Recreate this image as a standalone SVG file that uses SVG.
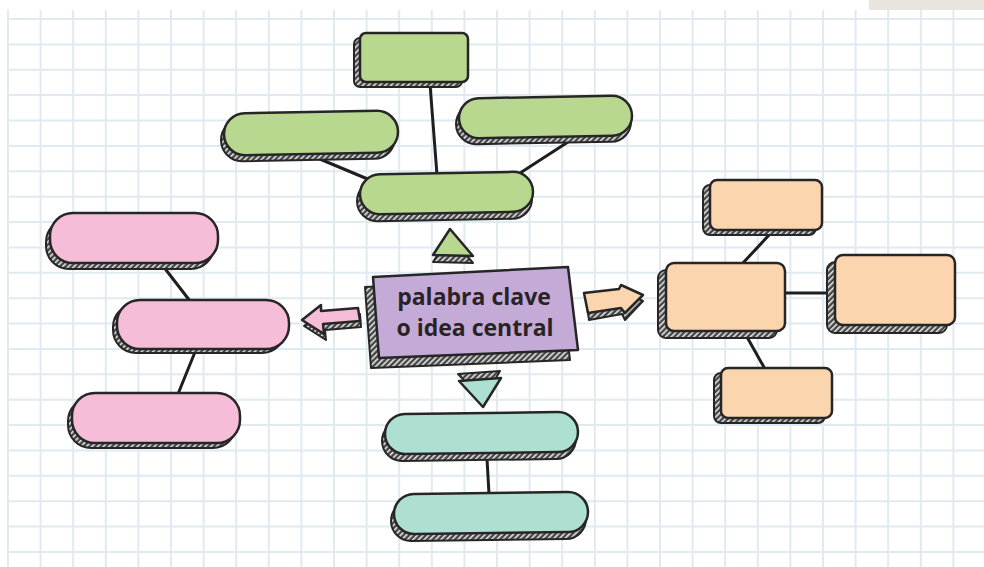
<svg xmlns="http://www.w3.org/2000/svg" width="984" height="567" viewBox="0 0 984 567">
<defs>
<pattern id="hatch" patternUnits="userSpaceOnUse" width="4" height="4" patternTransform="rotate(45)">
<rect width="4" height="4" fill="#444"/>
<rect width="1.6" height="4" fill="#e6e6e6"/>
</pattern>
</defs>
<style>
.grid{stroke:#dfeaf1;stroke-width:2;fill:none}
.sh{fill:url(#hatch);stroke:#262626;stroke-width:2;stroke-linejoin:round}
.face{stroke:#262626;stroke-width:2.5;stroke-linejoin:round}
.g{fill:#b8d78f}
.p{fill:#f5bdd7}
.o{fill:#fbd5ad}
.t{fill:#ade0d3}
.v{fill:#c4aad7}
.con{stroke:#1e1e1e;stroke-width:3;fill:none;stroke-linecap:round}
.lbl{font-family:"Open Sans","Liberation Sans",sans-serif;font-weight:bold;font-size:23px;fill:#2a2326;text-anchor:middle}
</style>
<rect width="984" height="567" fill="#ffffff"/>
<g id="grid">
<path class="grid" d="M8,10V567M40.6,10V567M73.2,10V567M105.8,10V567M138.4,10V567M171,10V567M203.6,10V567M236.2,10V567M268.8,10V567M301.4,10V567M334,10V567M366.6,10V567M399.2,10V567M431.8,10V567M464.4,10V567M497,10V567M529.6,10V567M562.2,10V567M594.8,10V567M627.4,10V567M660,10V567M692.6,10V567M725.2,10V567M757.8,10V567M790.4,10V567M823,10V567M855.6,10V567M888.2,10V567M920.8,10V567M953.4,10V567"/>
<path class="grid" d="M7,19H984M7,44.4H984M7,69.8H984M7,95.1H984M7,120.5H984M7,145.9H984M7,171.3H984M7,196.7H984M7,222H984M7,247.4H984M7,272.8H984M7,298.2H984M7,323.6H984M7,348.9H984M7,374.3H984M7,399.7H984M7,425.1H984M7,450.5H984M7,475.8H984M7,501.2H984M7,526.6H984M7,552H984"/>
</g>
<rect x="869" y="0" width="115" height="10" fill="#e9e4de"/>
<g id="connectors">
<line class="con" x1="430" y1="84" x2="437" y2="175"/>
<line class="con" x1="315" y1="157" x2="370" y2="180"/>
<line class="con" x1="568" y1="142" x2="517" y2="175"/>
<line class="con" x1="163" y1="266" x2="190" y2="301"/>
<line class="con" x1="195" y1="352" x2="178" y2="394"/>
<line class="con" x1="770" y1="234" x2="742" y2="264"/>
<line class="con" x1="785" y1="293" x2="829" y2="293"/>
<line class="con" x1="747" y1="337" x2="765" y2="369"/>
<line class="con" x1="487" y1="459" x2="489" y2="494"/>
</g>
<g id="green-top">
<rect class="sh" x="354" y="38" width="108" height="49" rx="6"/>
<rect class="face g" x="360" y="33" width="108" height="49" rx="6"/>
</g>
<g id="green-left">
<rect class="sh" x="221" y="118" width="174" height="42" rx="21" transform="rotate(-1 308 139)"/>
<rect class="face g" x="224" y="112" width="174" height="42" rx="21" transform="rotate(-1 311 133)"/>
</g>
<g id="green-right">
<rect class="sh" x="456" y="103" width="175" height="40" rx="20" transform="rotate(-1 543 123)"/>
<rect class="face g" x="459" y="97" width="173" height="40" rx="20" transform="rotate(-1 545 117)"/>
</g>
<g id="green-center">
<rect class="sh" x="357" y="180" width="175" height="40" rx="20" transform="rotate(-1 445 200)"/>
<rect class="face g" x="360" y="173" width="173" height="40" rx="20" transform="rotate(-1 446 193)"/>
</g>
<g id="green-triangle">
<path class="sh" d="M450,236 L433,262 L473,263 Z"/>
<path class="face g" d="M450,229 L433,255 L473,256 Z"/>
</g>
<g id="central">
<path class="sh" d="M365,287 L560,277 L570,360 L371,368 Z"/>
<path class="face v" d="M373,277 L568,267 L578,350 L379,358 Z"/>
<text class="lbl" x="474" y="305">palabra clave</text>
<text class="lbl" x="475" y="336">o idea central</text>
</g>
<g id="arrow-left">
<path class="sh" d="M304,326 L323,311 L323,317 L360,314 L361,327 L325,330 L326,340 Z"/>
<path class="face p" d="M302,320 L321,305 L321,311 L358,308 L360,321 L323,324 L324,334 Z"/>
</g>
<g id="arrow-right">
<path class="sh" d="M586,299 L620,295 L622,291 L643,301 L625,320 L622,314 L589,320 Z"/>
<path class="face o" d="M584,293 L619,289 L621,285 L643,295 L625,313 L621,308 L588,313 Z"/>
</g>
<g id="teal-triangle">
<path class="sh" d="M458,374 L500,371 L483,400 Z"/>
<path class="face t" d="M459,381 L501,378 L483,407 Z"/>
</g>
<g id="pink-top">
<rect class="sh" x="46" y="219" width="168" height="50" rx="23"/>
<rect class="face p" x="50" y="213" width="168" height="50" rx="23"/>
</g>
<g id="pink-middle">
<rect class="sh" x="113" y="304" width="172" height="49" rx="23"/>
<rect class="face p" x="117" y="300" width="172" height="49" rx="23"/>
</g>
<g id="pink-bottom">
<rect class="sh" x="68" y="398" width="168" height="50" rx="23"/>
<rect class="face p" x="72" y="393" width="168" height="50" rx="23"/>
</g>
<g id="orange-top">
<rect class="sh" x="703" y="185" width="113" height="50" rx="7"/>
<rect class="face o" x="710" y="180" width="112" height="50" rx="7"/>
</g>
<g id="orange-middle">
<rect class="sh" x="658" y="270" width="119" height="68" rx="8"/>
<rect class="face o" x="666" y="263" width="119" height="68" rx="8"/>
</g>
<g id="orange-right">
<rect class="sh" x="827" y="262" width="120" height="71" rx="8"/>
<rect class="face o" x="835" y="255" width="120" height="70" rx="8"/>
</g>
<g id="orange-bottom">
<rect class="sh" x="714" y="373" width="111" height="50" rx="7"/>
<rect class="face o" x="721" y="368" width="111" height="50" rx="7"/>
</g>
<g id="teal-top">
<rect class="sh" x="382" y="420" width="194" height="40" rx="20" transform="rotate(-0.7 479 440)"/>
<rect class="face t" x="385" y="413" width="193" height="40" rx="20" transform="rotate(-0.7 481 433)"/>
</g>
<g id="teal-bottom">
<rect class="sh" x="391" y="500" width="195" height="40" rx="20" transform="rotate(-0.7 488 520)"/>
<rect class="face t" x="394" y="493" width="194" height="40" rx="20" transform="rotate(-0.7 491 513)"/>
</g>
</svg>
